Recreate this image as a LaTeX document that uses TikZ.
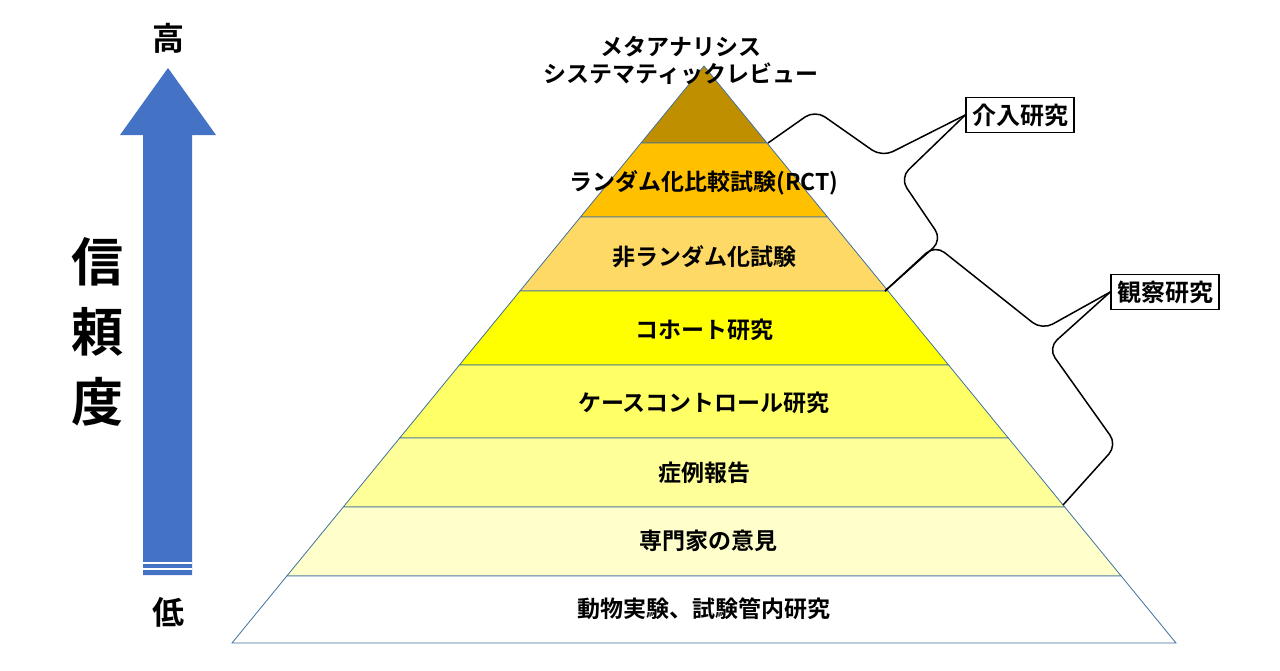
\documentclass[tikz,border=0pt]{standalone}
\usepackage{fontspec}
\setmainfont{Noto Sans CJK JP}[BoldFont={Noto Sans CJK JP Bold}]
\usetikzlibrary{positioning}
\definecolor{layerA}{HTML}{BF8F00}
\definecolor{layerB}{HTML}{FFC000}
\definecolor{layerC}{HTML}{FFD966}
\definecolor{layerD}{HTML}{FFFF00}
\definecolor{layerE}{HTML}{FFFF66}
\definecolor{layerF}{HTML}{FFFF99}
\definecolor{layerG}{HTML}{FFFFCC}
\definecolor{edgeblue}{HTML}{41719C}
\definecolor{arrowblue}{HTML}{4472C4}
\tikzset{
layer/.style={
    draw=edgeblue,
    line width=0.8pt
},
lbl/.style={
    font=\bfseries\fontsize{23}{27}\selectfont
},
tag/.style={
    draw,
    line width=1.5pt,
    fill=white,
    font=\bfseries\fontsize{24}{28}\selectfont,
    inner sep=6pt
},
brace/.style={
    line width=1.5pt,
    rounded corners=12pt
}
}
\newcommand{\halfw}[1]{0.818*(#1-66)}
\begin{document}
\begin{tikzpicture}[x=1pt,y=-1pt]
\useasboundingbox (0,0) rectangle (1280,670);
% pyramid layers
\foreach \ya/\yb/\col in {66/143/layerA,143/217/layerB,217/291/layerC,291/365/layerD,365/438/layerE,438/507/layerF,507/576/layerG,576/643/white}{
  \filldraw[layer,fill=\col] ({704-\halfw{\ya}},\ya) -- ({704+\halfw{\ya}},\ya)
    -- ({704+\halfw{\yb}},\yb) -- ({704-\halfw{\yb}},\yb) -- cycle;
}
\node[lbl,align=center] (meta) at (681,60) {メタアナリシス\\システマティックレビュー};
\node[lbl] (rct) at (704,183) {ランダム化比較試験(RCT)};
\node[lbl] (nonr) at (704,257) {非ランダム化試験};
\node[lbl] (coh) at (704,330) {コホート研究};
\node[lbl] (cc) at (704,403) {ケースコントロール研究};
\node[lbl] (case) at (704,473) {症例報告};
\node[lbl] (exp) at (708,541) {専門家の意見};
\node[lbl] (ani) at (704,609) {動物実験、試験管内研究};
% braces
\node[tag] (interv) at (1020,115) {介入研究};
\node[tag] (obs) at (1165,292) {観察研究};
\coordinate (b1s) at (768,143);
\coordinate (b1m) at (885,291);
\coordinate (b2e) at (1063,505);
\draw[brace] (b1s) -- (815,110) -- (882,157) -- (interv.west);
\draw[brace] (interv.west) -- (900,178) -- (942,240) -- (b1m);
\draw[brace] (b1m) -- (935,245) -- (1042,330) -- (obs.west);
\draw[brace] (obs.west) -- (1048,348) -- (1117,445) -- (b2e);
% reliability arrow
\fill[arrowblue] (143,575) -- (143,135) -- (120,135) -- (168,68) -- (216,135) -- (192,135) -- (192,575) -- cycle;
\draw[white,line width=1.5pt] (143,563) -- (192,563) (143,569) -- (192,569);
\node[font=\bfseries\fontsize{32}{34}\selectfont] (hi) at (168,38) {高};
\node[font=\bfseries\fontsize{32}{34}\selectfont] (lo) at (168,612) {低};
\node[font=\bfseries\fontsize{52}{70}\selectfont,align=center] (rel) at (97,332) {信\\頼\\度};
\end{tikzpicture}
\end{document}
